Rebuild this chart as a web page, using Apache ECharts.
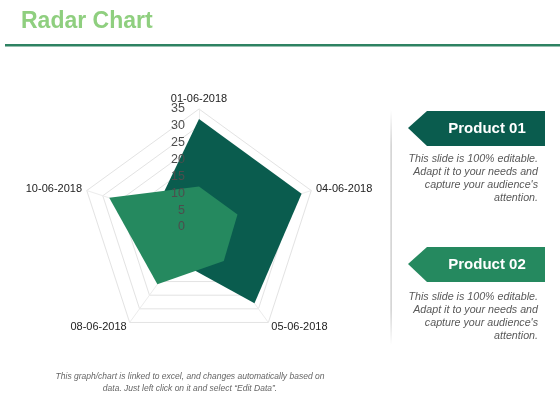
<!DOCTYPE html>
<html>
<head>
<meta charset="utf-8">
<script src="https://cdn.jsdelivr.net/npm/echarts@6/dist/echarts.min.js"></script>
<style>
html,body{margin:0;padding:0;background:#fff;}
#chart{width:560px;height:420px;}
</style>
</head>
<body>
<div id="chart"></div>
<script>
var categories = ['01-06-2018', '04-06-2018', '05-06-2018', '08-06-2018', '10-06-2018'];
var product01 = [32, 32, 28, 12, 14];
var product02 = [12, 12, 12.5, 21, 28];
var seriesNames = ['Product 01', 'Product 02'];
var tickLabels = [0, 5, 10, 15, 20, 25, 30, 35];
var axisMax = 35;
var titleText = 'Radar Chart';
var descText = 'This slide is 100% editable.\nAdapt it to your needs and\ncapture your audience\'s\nattention.';
var footText = 'This graph/chart is linked to excel, and changes automatically based on\ndata. Just left click on it and select \u201cEdit Data\u201d.';

// ECharts lays radar indicators counter-clockwise; reorder so they run clockwise from the top
function cw(arr) { return [arr[0]].concat(arr.slice(1).reverse()); }

var C1 = '#0a5c4e', C2 = '#25895f';
var cx = 199, cy = 227, R = 118;
var chart = echarts.init(document.getElementById('chart'), null, {renderer: 'canvas'});

function tag(y, color, text) {
  return {
    type: 'group',
    children: [
      {type: 'polygon', shape: {points: [[408, y + 17], [427, y], [545, y], [545, y + 35], [427, y + 35]]},
       style: {fill: color}},
      {type: 'text', style: {text: text, x: 487, y: y + 18, align: 'center', verticalAlign: 'middle',
       fill: '#fff', font: 'bold 15px "Liberation Sans", Arial, sans-serif'}}
    ]
  };
}
function desc(y) {
  return {type: 'text', style: {text: descText, x: 538, y: y, align: 'right', verticalAlign: 'top',
    fill: '#595959', font: 'italic 10.7px "Liberation Sans", Arial, sans-serif', lineHeight: 13.2}};
}

chart.setOption({
  animation: false,
  backgroundColor: '#fff',
  grid: {left: cx, top: cy - R, height: R, width: 1, containLabel: false},
  xAxis: {type: 'value', show: false},
  yAxis: {
    type: 'value', min: 0, max: axisMax, interval: 5, z: 20,
    axisLine: {show: false}, axisTick: {show: false}, splitLine: {show: false},
    axisLabel: {color: '#4d4d4d', fontSize: 12.5, margin: 14, fontFamily: '"Liberation Sans", Arial, sans-serif',
      formatter: function (v) { return tickLabels.indexOf(v) >= 0 ? String(v) : ''; }}
  },
  radar: {
    center: [cx, cy],
    radius: R,
    startAngle: 90,
    shape: 'polygon',
    splitNumber: 7,
    indicator: cw(categories).map(function (c) { return {name: c, max: axisMax, min: 0}; }),
    axisName: {color: '#222', fontSize: 11, fontFamily: '"Liberation Sans", Arial, sans-serif'},
    nameGap: 5,
    splitLine: {lineStyle: {color: '#e3e3e3', width: 1}},
    splitArea: {show: false},
    axisLine: {lineStyle: {color: '#ececec'}},
    axisLabel: {show: false}
  },
  series: [{
    type: 'radar',
    symbol: 'none',
    z: 2,
    data: [
      {name: seriesNames[0], value: cw(product01), lineStyle: {width: 0, color: C1}, itemStyle: {color: C1}, areaStyle: {color: C1, opacity: 1}},
      {name: seriesNames[1], value: cw(product02), lineStyle: {width: 0, color: C2}, itemStyle: {color: C2}, areaStyle: {color: C2, opacity: 1}}
    ]
  }],
  graphic: [
    {type: 'text', style: {text: titleText, x: 21, y: 22, verticalAlign: 'middle', fill: '#8fcf7f',
      font: 'bold 23px "Liberation Sans", Arial, sans-serif'}},
    {type: 'rect', shape: {x: 5, y: 44, width: 555, height: 2.5}, style: {fill: '#2e8262'}},
    {type: 'rect', shape: {x: 390.5, y: 110, width: 1.2, height: 235},
      style: {fill: new echarts.graphic.LinearGradient(0, 0, 0, 1, [
        {offset: 0, color: 'rgba(190,190,190,0)'}, {offset: 0.15, color: '#c4c4c4'},
        {offset: 0.85, color: '#c4c4c4'}, {offset: 1, color: 'rgba(190,190,190,0)'}])}},
    tag(111, C1, seriesNames[0]),
    desc(152),
    tag(247, C2, seriesNames[1]),
    desc(290),
    {type: 'text', style: {text: footText, x: 190, y: 371, align: 'center', verticalAlign: 'top',
      fill: '#666', font: 'italic 8.5px "Liberation Sans", Arial, sans-serif', lineHeight: 12}}
  ]
});
</script>
</body>
</html>
